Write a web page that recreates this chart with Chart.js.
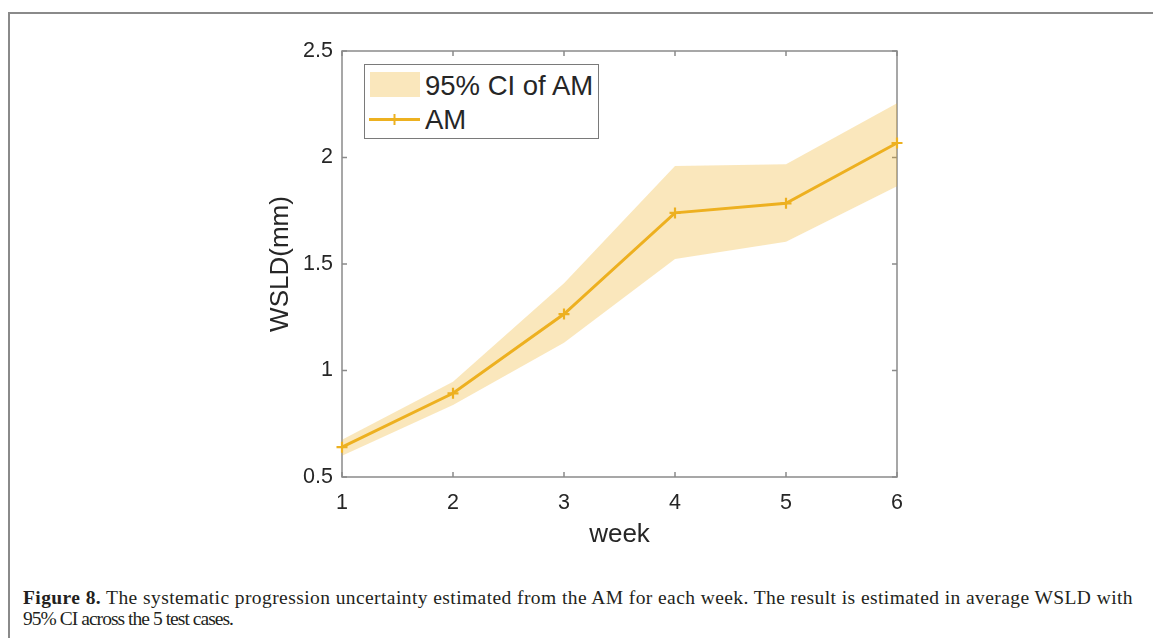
<!DOCTYPE html>
<html>
<head>
<meta charset="utf-8">
<script src="https://cdn.jsdelivr.net/npm/chart.js@4.4.1/dist/chart.umd.min.js"></script>
<style>
  html, body { margin:0; padding:0; background:#fff; }
  body { width:1153px; height:638px; position:relative; overflow:hidden; }
  #frame { position:absolute; left:8px; top:12px; width:1200px; height:700px;
           border-left:2px solid #8a8a8a; border-top:2px solid #8a8a8a; }
  #wrap { position:absolute; left:0; top:0; width:1153px; height:560px; }
  #legend { position:absolute; left:364px; top:64px; width:233px; height:73px;
            border:1.5px solid #7a7a7a; background:#fff; }
  .ltxt { position:absolute; font-family:"Liberation Sans", Arial, sans-serif;
          font-size:27.5px; line-height:27.5px; color:#262626; white-space:nowrap; }
  .cap { position:absolute; left:23px; font-family:"Liberation Serif", "Times New Roman", serif;
         font-size:19.5px; line-height:19.5px; color:#231f20; white-space:nowrap; }
</style>
</head>
<body>
<div id="frame"></div>
<div id="wrap"><canvas id="c" width="1153" height="560"></canvas></div>

<div id="legend"></div>
<div style="position:absolute;left:370px;top:72px;width:50px;height:25px;background:rgba(237,177,32,0.3);"></div>
<div class="ltxt" style="left:425px;top:72px;">95% CI of AM</div>
<svg style="position:absolute;left:365px;top:110px;" width="60" height="20">
  <line x1="4" y1="9.5" x2="55" y2="9.5" stroke="#EDB120" stroke-width="3"/>
  <line x1="29.5" y1="4" x2="29.5" y2="15" stroke="#EDB120" stroke-width="2"/>
</svg>
<div class="ltxt" style="left:425px;top:106px;">AM</div>

<div class="cap" id="cap1" style="top:588px;"><b>Figure 8.</b> The systematic progression uncertainty estimated from the AM for each week. The result is estimated in average WSLD with</div>
<div class="cap" id="cap2" style="top:609px;">95% CI across the 5 test cases.</div>

<script>
// ---- data ----
const weeks = [1, 2, 3, 4, 5, 6];
const amMean  = [0.640, 0.893, 1.265, 1.740, 1.785, 2.068];
const ciUpper = [0.675, 0.947, 1.410, 1.960, 1.968, 2.255];
const ciLower = [0.600, 0.838, 1.130, 1.523, 1.605, 1.865];
const xTickLabels = ['1', '2', '3', '4', '5', '6'];
const yTickLabels = ['0.5', '1', '1.5', '2', '2.5'];

const lineColor = '#EDB120';
const bandColor = 'rgba(237,177,32,0.3)';
const axisColor = '#8a8a8a';

const toXY = arr => weeks.map((w, i) => ({ x: w, y: arr[i] }));

// fit caption lines to reference widths
function fitLine(el, target) {
  const w = el.getBoundingClientRect().width;
  const n = el.textContent.length;
  el.style.letterSpacing = ((target - w) / n) + 'px';
}
fitLine(document.getElementById('cap1'), 1110);
fitLine(document.getElementById('cap2'), 210);

const boxPlugin = {
  id: 'matlabBox',
  beforeDatasetsDraw(chart) {
    const { ctx, chartArea: a, scales } = chart;
    ctx.save();
    ctx.strokeStyle = axisColor;
    ctx.lineWidth = 1.5;
    ctx.strokeRect(a.left, a.top, a.right - a.left, a.bottom - a.top);
    const tl = 5;
    ctx.beginPath();
    scales.x.ticks.forEach(t => {
      const x = scales.x.getPixelForValue(t.value);
      ctx.moveTo(x, a.bottom); ctx.lineTo(x, a.bottom - tl);
      ctx.moveTo(x, a.top); ctx.lineTo(x, a.top + tl);
    });
    scales.y.ticks.forEach(t => {
      const y = scales.y.getPixelForValue(t.value);
      ctx.moveTo(a.left, y); ctx.lineTo(a.left + tl, y);
      ctx.moveTo(a.right, y); ctx.lineTo(a.right - tl, y);
    });
    ctx.stroke();
    ctx.restore();
  }
};

new Chart(document.getElementById('c'), {
  type: 'line',
  data: {
    datasets: [
      { label: 'lower', data: toXY(ciLower), borderColor: 'rgba(0,0,0,0)', borderWidth: 0,
        pointRadius: 0, fill: false, tension: 0 },
      { label: '95% CI of AM', data: toXY(ciUpper), borderColor: 'rgba(0,0,0,0)', borderWidth: 0,
        pointRadius: 0, backgroundColor: bandColor, fill: '-1', tension: 0 },
      { label: 'AM', data: toXY(amMean), borderColor: lineColor, borderWidth: 3,
        pointStyle: 'cross', pointRadius: 5.5, pointBorderWidth: 2.2, pointBorderColor: lineColor,
        fill: false, tension: 0, clip: 10 }
    ]
  },
  options: {
    responsive: false,
    animation: false,
    events: [],
    layout: { padding: { left: 250, top: 51, right: 256, bottom: 0 } },
    plugins: { legend: { display: false }, tooltip: { enabled: false } },
    scales: {
      x: {
        type: 'linear', min: 1, max: 6,
        grid: { display: false, drawTicks: false },
        border: { display: false },
        ticks: { stepSize: 1, padding: 13, color: '#262626',
                 font: { family: 'Liberation Sans', size: 21.5 },
                 callback: (v) => xTickLabels[weeks.indexOf(v)] },
        title: { display: true, text: 'week', color: '#262626',
                 font: { family: 'Liberation Sans', size: 26 }, padding: { top: 0, bottom: 10 } },
        afterFit: s => { s.height = 83; }
      },
      y: {
        type: 'linear', min: 0.5, max: 2.5,
        grid: { display: false, drawTicks: false },
        border: { display: false },
        ticks: { stepSize: 0.5, padding: 9, color: '#262626',
                 font: { family: 'Liberation Sans', size: 21.5 },
                 callback: (v) => yTickLabels[Math.round((v - 0.5) / 0.5)] },
        title: { display: true, text: 'WSLD(mm)', color: '#262626',
                 font: { family: 'Liberation Sans', size: 26 }, padding: { top: 15, bottom: 0 } },
        afterFit: s => { s.width = 92; }
      }
    }
  },
  plugins: [boxPlugin]
});
</script>
</body>
</html>
